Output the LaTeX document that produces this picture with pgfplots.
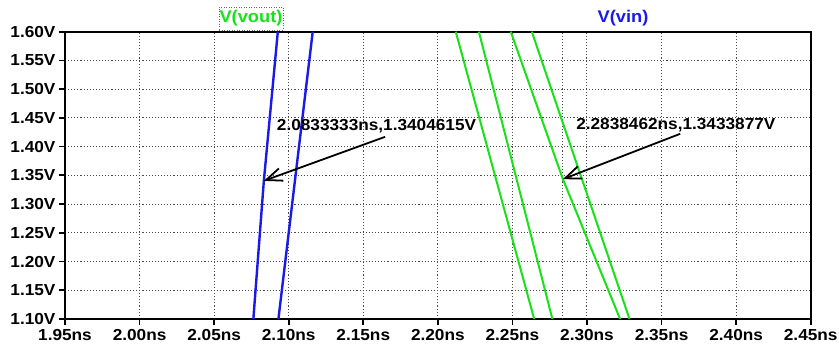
\documentclass[border=0pt]{standalone}
\usepackage{fontspec}
\setmainfont{Liberation Sans}[FakeStretch=1.08]
\usepackage{pgfplots}
\pgfplotsset{compat=1.18}
\usetikzlibrary{arrows.meta}
\definecolor{vgreen}{RGB}{25,225,25}
\definecolor{vblue}{RGB}{25,25,235}
\begin{document}
\begin{tikzpicture}
\useasboundingbox (-65bp,-33bp) rectangle (774bp,319bp);
\begin{axis}[at={(0,0)}, anchor=south west, scale only axis,
  width=745.7bp, height=287.3bp,
  xmin=1.95, xmax=2.45, ymin=1.10, ymax=1.60,
  xtick={1.95,2.00,2.05,2.10,2.15,2.20,2.25,2.30,2.35,2.40,2.45},
  xticklabels={1.95ns,2.00ns,2.05ns,2.10ns,2.15ns,2.20ns,2.25ns,2.30ns,2.35ns,2.40ns,2.45ns},
  ytick={1.10,1.15,1.20,1.25,1.30,1.35,1.40,1.45,1.50,1.55,1.60},
  yticklabels={1.10V,1.15V,1.20V,1.25V,1.30V,1.35V,1.40V,1.45V,1.50V,1.55V,1.60V},
  grid=major,
  major grid style={black!70, dash pattern=on 1.1bp off 2bp, line width=1bp},
  axis line style={line width=1.7bp},
  tick style={line width=1.7bp, black},
  tick align=outside, major tick length=6bp,
  xtick pos=bottom, ytick pos=left,
  tick label style={font=\fontsize{16}{18}\selectfont\bfseries},
  xticklabel style={yshift=-1bp},
  yticklabel style={xshift=0bp},
]
\addplot[black!70, dash pattern=on 1.1bp off 2bp, line width=1bp] coordinates {(2.2838462,1.10) (2.2838462,1.60)};
\addplot[vblue, line width=2.4bp] coordinates {(2.0763,1.10) (2.0833333,1.3404615) (2.0927,1.60)};
\addplot[vblue, line width=2.4bp] coordinates {(2.0931,1.10) (2.1161,1.60)};
\addplot[vgreen, line width=2bp] coordinates {(2.2646,1.10) (2.2120,1.60)};
\addplot[vgreen, line width=2bp] coordinates {(2.2768,1.10) (2.2275,1.60)};
\addplot[vgreen, line width=2bp] coordinates {(2.3222,1.10) (2.2838462,1.3433877) (2.2489,1.60)};
\addplot[vgreen, line width=2bp] coordinates {(2.3285,1.10) (2.2630,1.60)};
\draw[line width=1.8bp, -{Straight Barb[length=16bp, width=13bp, line width=1.8bp]}] (axis cs:2.1646,1.417) -- (axis cs:2.0833333,1.3404615);
\draw[line width=1.8bp, -{Straight Barb[length=16bp, width=13bp, line width=1.8bp]}] (axis cs:2.3625,1.4223) -- (axis cs:2.2838462,1.3433877);
\node[anchor=base west, inner sep=0pt, font=\fontsize{16}{18}\selectfont\bfseries] at (axis cs:2.092,1.4275) {2.0833333ns,1.3404615V};
\node[anchor=base west, inner sep=0pt, font=\fontsize{16}{18}\selectfont\bfseries] at (axis cs:2.2927,1.4293) {2.2838462ns,1.3433877V};
\end{axis}
\node[draw=black!60, dash pattern=on 1bp off 1.5bp, line width=0.7bp, inner xsep=0.5bp, minimum height=23bp, text=vgreen, font=\fontsize{17}{19}\selectfont\bfseries] at (186bp,300.5bp) {V(vout)};
\node[inner sep=0pt, text=vblue, font=\fontsize{17}{19}\selectfont\bfseries] at (558bp,301bp) {V(vin)};
\end{tikzpicture}
\end{document}
